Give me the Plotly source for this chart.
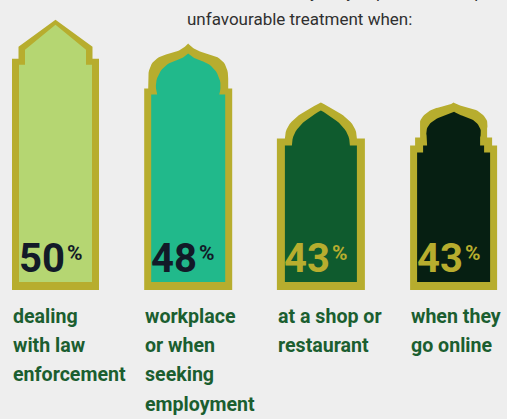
import plotly.graph_objects as go

# ---------------- data ----------------
categories = ["dealing with law enforcement",
              "workplace or when seeking employment",
              "at a shop or restaurant",
              "when they go online"]
label_lines = [["dealing", "with law", "enforcement"],
               ["workplace", "or when", "seeking", "employment"],
               ["at a shop or", "restaurant"],
               ["when they", "go online"]]
values = [50, 48, 43, 43]
value_labels = ["50", "48", "43", "43"]
title_lines = ["Muslims who say they experienced or perceived",
               "unfavourable treatment when:"]

# ---------------- styles ----------------
fill_colors = ["#B5D672", "#21B98B", "#0F5B2E", "#061F12"]
number_colors = ["#121A28", "#121A28", "#B7AD2E", "#B7AD2E"]
dome_styles = ["gable", "onion", "pointed", "stepped"]
BORDER = "#B7AD2E"
BG = "#EEEEEE"
LABEL_GREEN = "#1B5E30"
FONT = "Roboto, Lato, Liberation Sans, sans-serif"

W, H_FIG = 507, 419
BASE_VALUE = 27.1        # value at the foot of the shapes (axis does not start at 0)
PX_PER_VALUE = 11.8
BASE_PX = 290            # pixel row of the foot
CAT_PX = 132.7           # pixel distance between categories
FIRST_CENTER_PX = 55.5

DOME_H = {"gable": 39, "onion": 45, "pointed": 36, "stepped": 43}

LABEL_SIZE = 19.6
LABEL_FIRST_SHIFT = -12.8
LABEL_LINE_STEP = 29.3


def bez(p0, p1, p2, p3, n=16):
    pts = []
    for k in range(1, n + 1):
        t = k / n
        a, b, c, d = (1 - t) ** 3, 3 * (1 - t) ** 2 * t, 3 * (1 - t) * t ** 2, t ** 3
        pts.append((a * p0[0] + b * p1[0] + c * p2[0] + d * p3[0],
                    a * p0[1] + b * p1[1] + c * p2[1] + d * p3[1]))
    return pts


def glyph(style, H):
    if style == "gable":
        outer = [(-43.5, 0), (-43.5, H), (-37, H), (-37, H + 12), (0, H + 39)]
        inner = [(-36.5, 8), (-36.5, H - 6), (-30.5, H - 6), (-30.5, H + 9), (0, H + 34)]
    elif style == "onion":
        outer = [(-44, 0), (-44, H), (-40, H), (-40, H + 10)]
        outer += bez((-40, H + 10), (-40, H + 26), (-32, H + 32), (-18, H + 35))
        outer += bez((-18, H + 35), (-9, H + 37), (-3, H + 41), (0, H + 45))
        inner = [(-37, 8), (-37, H - 6), (-31, H - 6)]
        inner += bez((-31, H - 6), (-36, H + 10), (-26, H + 23), (-15, H + 27))
        inner += bez((-15, H + 27), (-7, H + 29), (-3, H + 32), (0, H + 35))
    elif style == "pointed":
        outer = [(-44, 0), (-44, H), (-36, H)]
        outer += bez((-36, H), (-36, H + 18), (-18, H + 26), (0, H + 36))
        inner = [(-36, 8), (-36, H - 7), (-29, H - 7)]
        inner += bez((-29, H - 7), (-29, H + 10), (-15, H + 19), (0, H + 28))
    else:
        outer = [(-43.5, 0), (-43.5, H), (-38.5, H), (-38.5, H + 8),
                 (-33.5, H + 8), (-33.5, H + 17)]
        outer += bez((-33.5, H + 17), (-36, H + 27), (-28, H + 33), (-19, H + 37))
        outer += bez((-19, H + 37), (-10, H + 39), (-4, H + 40), (0, H + 43))
        inner = [(-36.5, 8), (-36.5, H - 7), (-30.5, H - 7), (-30.5, H),
                 (-26.5, H), (-26.5, H + 8)]
        inner += bez((-26.5, H + 8), (-30, H + 18), (-22, H + 25), (-14, H + 28))
        inner += bez((-14, H + 28), (-7, H + 30), (-3, H + 32), (0, H + 34))
    return outer, inner


def mirror(left):
    return left + [(-dx, h) for dx, h in reversed(left[:-1])]


def to_data(i, pts):
    xs = [i + dx / CAT_PX for dx, _ in pts]
    ys = [BASE_VALUE + h / PX_PER_VALUE for _, h in pts]
    return xs + [xs[0]], ys + [ys[0]]


fig = go.Figure()
for i, (v, style) in enumerate(zip(values, dome_styles)):
    peak_px = (v - BASE_VALUE) * PX_PER_VALUE
    body = peak_px - DOME_H[style]
    outer, inner = glyph(style, body)
    for pts, col in ((outer, BORDER), (inner, fill_colors[i])):
        xs, ys = to_data(i, mirror(pts))
        fig.add_trace(go.Scatter(x=xs, y=ys, mode="lines", fill="toself",
                                 fillcolor=col, line=dict(width=0, color=col),
                                 hoverinfo="skip", showlegend=False))

annotations = []
for i in range(len(values)):
    annotations.append(dict(x=i, y=BASE_VALUE, xref="x", yref="y",
                            text=value_labels[i], showarrow=False,
                            xanchor="right", yanchor="bottom", xshift=11, yshift=6,
                            font=dict(family=FONT, size=40, color=number_colors[i],
                                      weight="bold")))
    annotations.append(dict(x=i, y=BASE_VALUE, xref="x", yref="y",
                            text="%", showarrow=False,
                            xanchor="left", yanchor="top", xshift=9, yshift=51,
                            font=dict(family=FONT, size=21, color=number_colors[i],
                                      weight="bold")))
    for k, line in enumerate(label_lines[i]):
        annotations.append(dict(x=i, y=BASE_VALUE, xref="x", yref="y",
                                text=line, showarrow=False,
                                xanchor="left", yanchor="top", align="left",
                                xshift=-45, yshift=LABEL_FIRST_SHIFT - k * LABEL_LINE_STEP,
                                font=dict(family=FONT, size=LABEL_SIZE, color=LABEL_GREEN,
                                          weight="bold")))

for k, (line, bottom_px) in enumerate(zip(title_lines, [4.1, 31.1])):
    annotations.append(dict(x=185 / W, y=1 - bottom_px / H_FIG, xref="paper", yref="paper",
                            text=line, showarrow=False,
                            xanchor="left", yanchor="bottom", align="left",
                            font=dict(family=FONT, size=17, color="#303030",
                                      weight=400)))

fig.update_layout(
    width=W, height=H_FIG,
    margin=dict(l=0, r=0, t=0, b=0),
    paper_bgcolor=BG, plot_bgcolor=BG,
    xaxis=dict(range=[-FIRST_CENTER_PX / CAT_PX, (W - FIRST_CENTER_PX) / CAT_PX],
               visible=False, fixedrange=True),
    yaxis=dict(range=[BASE_VALUE - (H_FIG - BASE_PX) / PX_PER_VALUE,
                      BASE_VALUE + BASE_PX / PX_PER_VALUE],
               visible=False, fixedrange=True),
    annotations=annotations,
    showlegend=False,
)

fig.write_html("out.html",
               config={"displayModeBar": False},
               post_script="document.body.style.margin='0px';"
                           "document.body.style.background='#EEEEEE';")
